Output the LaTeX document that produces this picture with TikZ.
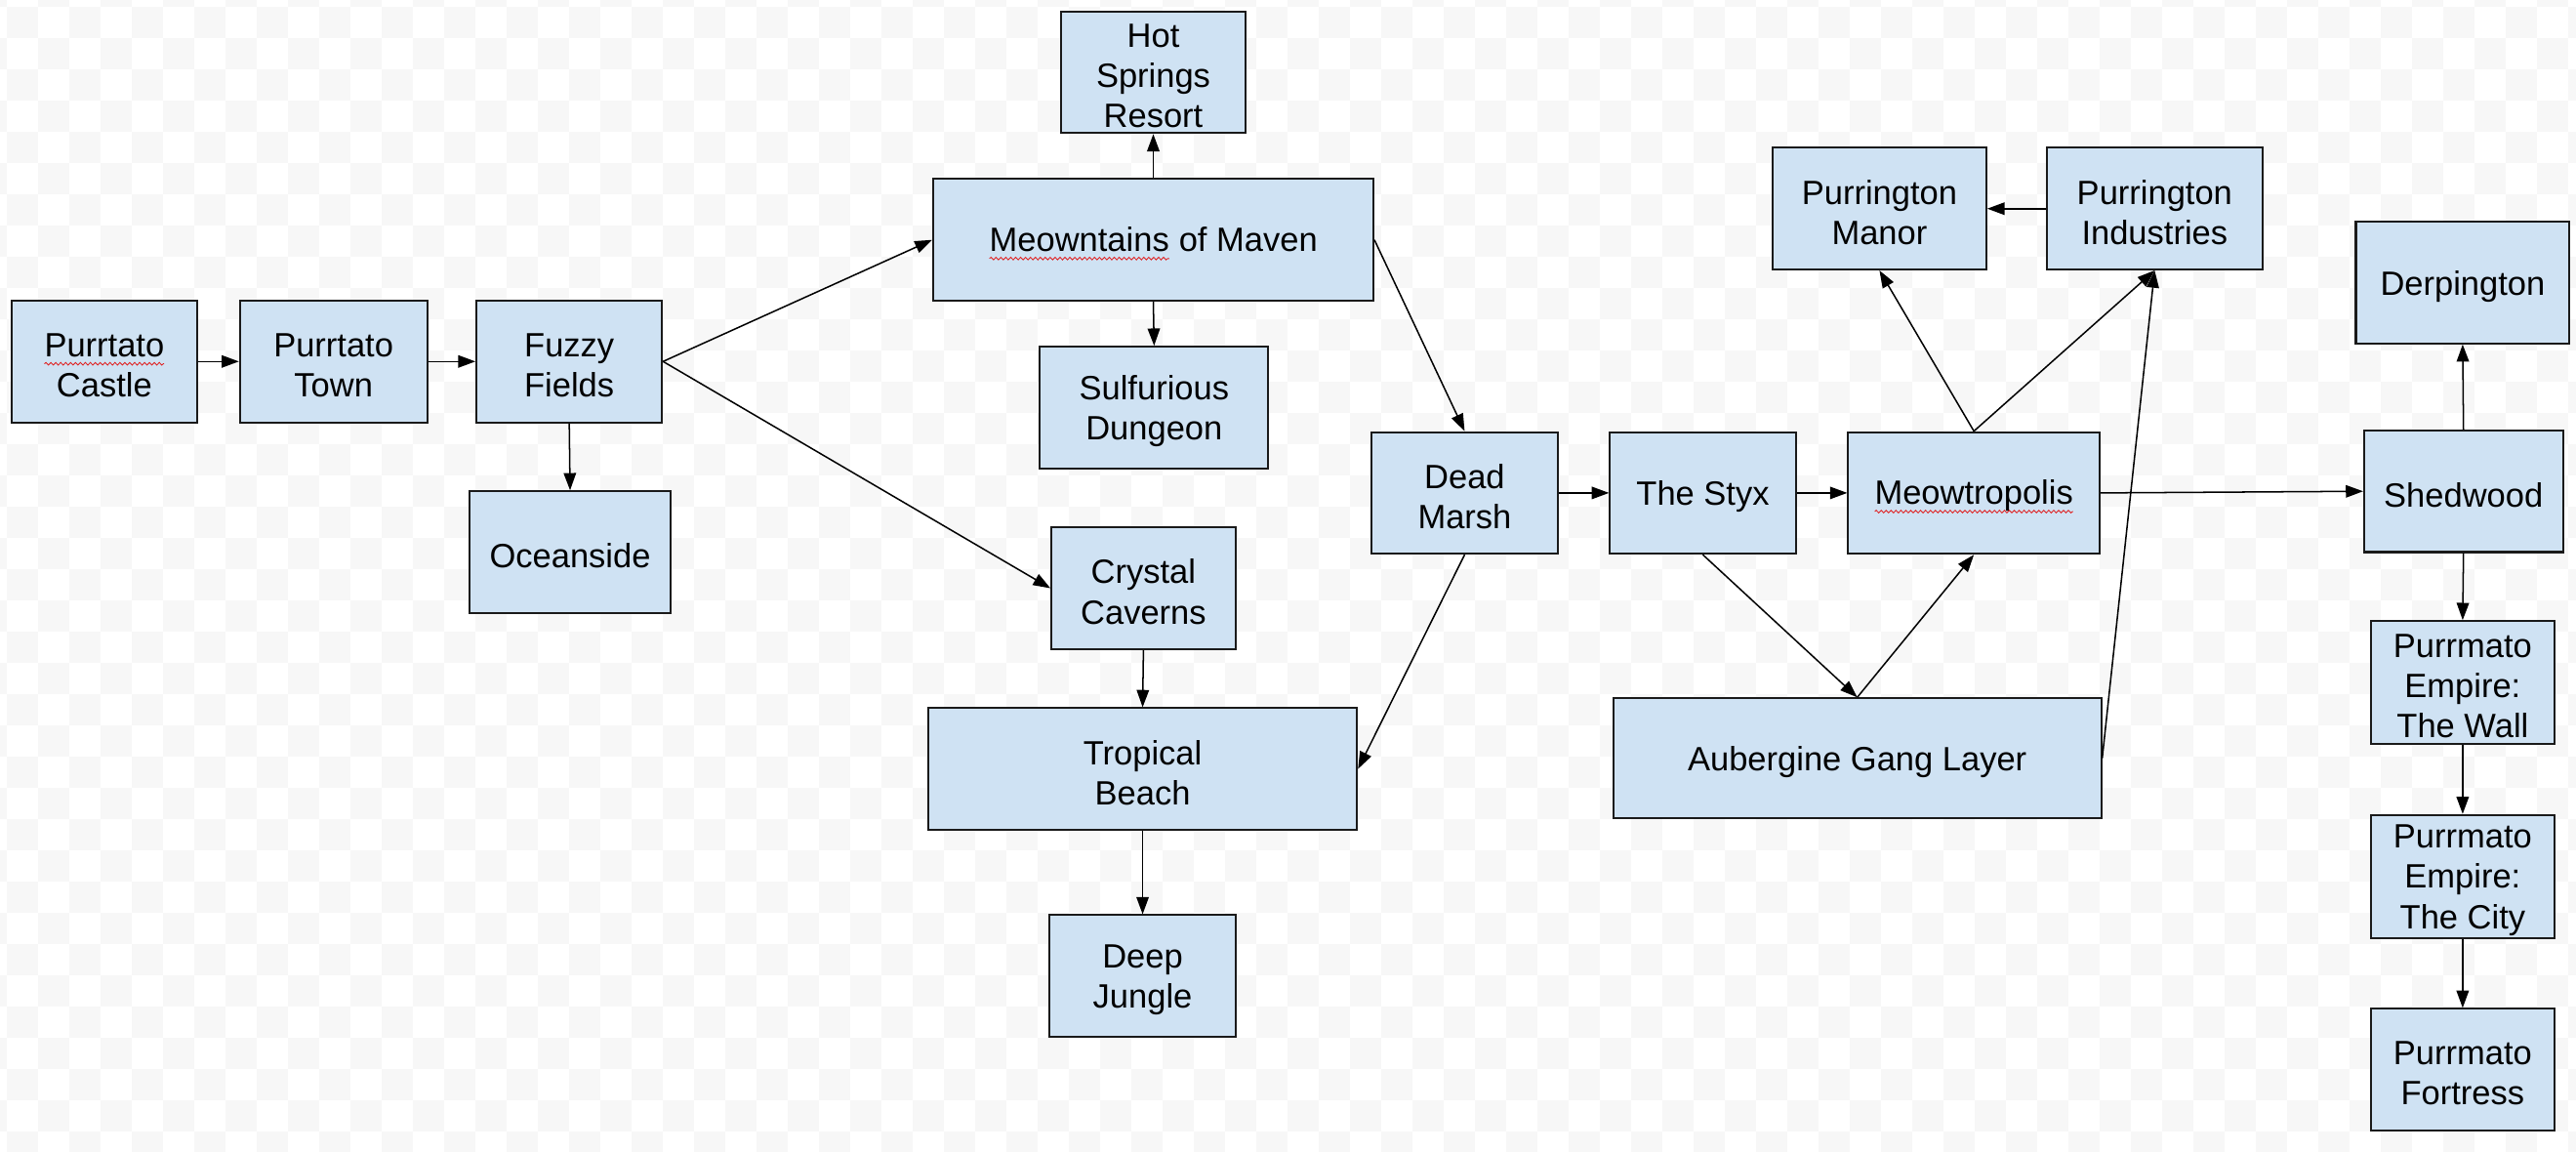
\documentclass[tikz,border=0pt]{standalone}
\usepackage{fontspec}
\setmainfont{Liberation Sans}
\usetikzlibrary{arrows.meta,decorations.pathmorphing}
\definecolor{boxfill}{HTML}{CFE2F3}
\definecolor{checkgray}{HTML}{F7F7F7}
\definecolor{edgecol}{HTML}{1A1A1A}
\definecolor{squigred}{HTML}{E02020}
\tikzset{
  locbox/.style={draw=edgecol, line width=1.2pt, fill=boxfill, rectangle, inner sep=0pt},
  boxtext/.style={rectangle, inner sep=0pt, align=center,
    font=\fontsize{20.5}{24.5}\selectfont, text=black},
  link/.style={draw=black, line width=0.9pt, -{Triangle[length=10.5pt,width=7.5pt]}},
  sqline/.style={draw=squigred, line width=0.5pt, decorate,
    decoration={snake, amplitude=0.8pt, segment length=3pt}},
  sqword/.style={draw=none, fill=none, rectangle, inner sep=0pt, outer sep=0pt,
    minimum width=0pt, minimum height=0pt, anchor=base}
}
\newcommand\squig[1]{\tikz[baseline=(sqw.base)]{\node[sqword](sqw){#1};\draw[sqline]([yshift=-4.5pt]sqw.base west)--([yshift=-4.5pt]sqw.base east);}}
\newcommand\placebox[6]{%
  \node[locbox, minimum width={(#4)-(#2)}, minimum height={(#5)-(#3)}] (#1) at ({((#2)+(#4))/2},{((#3)+(#5))/2}) {};
  \node[boxtext] (#1-t) at ([yshift=-2.2pt]#1.center) {#6};}
\begin{document}
\begin{tikzpicture}[x=1pt,y=-1pt]
\useasboundingbox (0,0) rectangle (1568,701);
\fill[white] (0,0) rectangle (1568,701);
\begin{scope}
\clip (0,0) rectangle (1568,701);
\foreach \i in {-1,...,82}{\foreach \j in {-1,...,36}{%
  \pgfmathtruncatemacro{\chkpar}{mod(\i+\j+2,2)}%
  \ifnum\chkpar=0 \fill[checkgray] ({3.963+19.014*\i},{3.963+19.014*\j}) rectangle +(19.014,19.014);\fi
}}
\end{scope}

\placebox{castle}{7}{183}{120}{257}{\squig{Purrtato}\\Castle}
\placebox{town}{146}{183}{260}{257}{Purrtato\\Town}
\placebox{fuzzy}{290}{183}{403}{257}{Fuzzy\\Fields}
\placebox{ocean}{286}{299}{408}{373}{Oceanside}
\placebox{hot}{646}{7}{758}{81}{Hot\\Springs\\Resort}
\placebox{maven}{568}{109}{836}{183}{\squig{Meowntains} of Maven}
\placebox{sulf}{633}{211}{772}{285}{Sulfurious\\Dungeon}
\placebox{crystal}{640}{321}{752}{395}{Crystal\\Caverns}
\placebox{beach}{565}{431}{826}{505}{Tropical\\Beach}
\placebox{jungle}{639}{557}{752}{631}{Deep\\Jungle}
\placebox{marsh}{835}{263}{948}{337}{Dead\\Marsh}
\placebox{styx}{980}{263}{1093}{337}{The Styx}
\placebox{meow}{1125}{263}{1278}{337}{\squig{Meowtropolis}}
\placebox{auber}{982}{425}{1279}{498}{Aubergine Gang Layer}
\placebox{manor}{1079}{90}{1209}{164}{Purrington\\Manor}
\placebox{indus}{1246}{90}{1377}{164}{Purrington\\Industries}
\placebox{derp}{1434}{135}{1564}{209}{Derpington}
\placebox{shed}{1439}{262}{1560}{336}{Shedwood}
\placebox{wall}{1443}{378}{1555}{453}{Purrmato\\Empire:\\The Wall}
\placebox{city}{1443}{496}{1555}{571}{Purrmato\\Empire:\\The City}
\placebox{fort}{1443}{614}{1555}{688}{Purrmato\\Fortress}

\draw[link] (castle.east) -- (town.west);
\draw[link] (town.east) -- (fuzzy.west);
\draw[link] (fuzzy.south) -- (ocean.north);
\draw[link] (fuzzy.east) -- (maven.west);
\draw[link] (fuzzy.east) -- (crystal.west);
\draw[link] (maven.north) -- (hot.south);
\draw[link] (maven.south) -- (sulf.north);
\draw[link] (maven.east) -- (marsh.north);
\draw[link] (crystal.south) -- (beach.north);
\draw[link] (beach.south) -- (jungle.north);
\draw[link] (marsh.south) -- (beach.east);
\draw[link] (marsh.east) -- (styx.west);
\draw[link] (styx.east) -- (meow.west);
\draw[link] (styx.south) -- (auber.north);
\draw[link] (auber.north) -- (meow.south);
\draw[link] (meow.north) -- (manor.south);
\draw[link] (meow.north) -- (indus.south);
\draw[link] (auber.east) -- (indus.south);
\draw[link] (indus.west) -- (manor.east);
\draw[link] (meow.east) -- (shed.west);
\draw[link] (shed.north) -- (derp.south);
\draw[link] (shed.south) -- (wall.north);
\draw[link] (wall.south) -- (city.north);
\draw[link] (city.south) -- (fort.north);
\end{tikzpicture}
\end{document}
